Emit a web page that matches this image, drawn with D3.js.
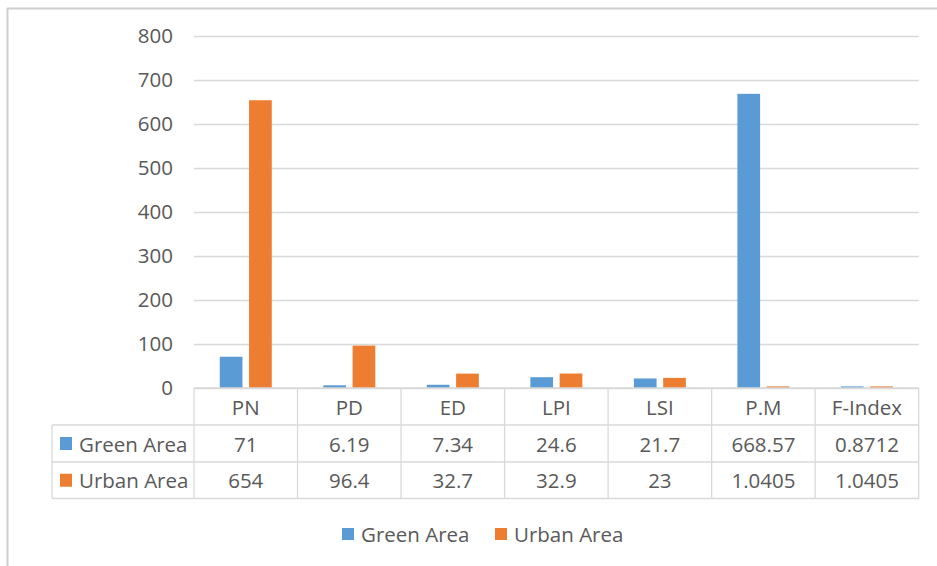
<!DOCTYPE html>
<html><head><meta charset="utf-8">
<script src="https://cdn.jsdelivr.net/npm/d3@7"></script>
<style>html,body{margin:0;padding:0;background:#fff;}svg{display:block;}</style>
</head><body>
<script>
const categories = ["PN","PD","ED","LPI","LSI","P.M","F-Index"];
const seriesNames = ["Green Area","Urban Area"];
const greenValues = [71, 6.19, 7.34, 24.6, 21.7, 668.57, 0.8712];
const urbanValues = [654, 96.4, 32.7, 32.9, 23, 1.0405, 1.0405];
const greenLabels = ["71","6.19","7.34","24.6","21.7","668.57","0.8712"];
const urbanLabels = ["654","96.4","32.7","32.9","23","1.0405","1.0405"];
const yTicks = [0,100,200,300,400,500,600,700,800];
const colors = ["#5B9BD5","#ED7D31"];

const W = 937, H = 566;
const font = "'Open Sans', 'Noto Sans', sans-serif";
const textColor = "#595959";
const lineColor = "#d9d9d9";

const svg = d3.select("body").append("svg").attr("width", W).attr("height", H);

// outer border (left and top visible)
svg.append("line").attr("x1",7.5).attr("x2",7.5).attr("y1",8).attr("y2",H).attr("stroke","#d0d0d0").attr("stroke-width",2);
svg.append("line").attr("x1",7).attr("x2",W).attr("y1",8.5).attr("y2",8.5).attr("stroke","#d0d0d0").attr("stroke-width",2);

const x0 = 194, x1 = 918.7;
const y = d3.scaleLinear().domain([0,800]).range([388,36]);
const x = d3.scaleBand().domain(categories).range([x0,x1]).padding(0);
const bw = x.bandwidth();
const xs = d3.scaleBand().domain(seriesNames).range([bw/2-26, bw/2+26]).paddingInner(0.225).paddingOuter(0);

// gridlines
const yAxis = d3.axisLeft(y).tickValues(yTicks).tickSize(-(x1-x0)).tickPadding(21);
const ga = svg.append("g").attr("transform",`translate(${x0},0)`).call(yAxis);
ga.select(".domain").remove();
ga.selectAll(".tick line").attr("stroke",lineColor).attr("stroke-width",1.3);
ga.selectAll(".tick text").attr("fill",textColor).style("font-family",font).style("font-size","20.5px");

// bars
const data = categories.map((c,i)=>({cat:c, vals:[greenValues[i], urbanValues[i]]}));
const groups = svg.append("g").selectAll("g").data(data).join("g")
  .attr("transform", d=>`translate(${x(d.cat)},0)`);
groups.selectAll("rect").data(d=>d.vals.map((v,j)=>({v, s:seriesNames[j], j}))).join("rect")
  .attr("x", d=>xs(d.s)).attr("width", xs.bandwidth())
  .attr("y", d=>Math.min(y(d.v), y(0)-1.6)).attr("height", d=>Math.max(y(0)-y(d.v), 1.6))
  .attr("fill", d=>colors[d.j]);

// data table
const rowY = [388, 425, 462, 498.5];
const tableLeft = 52;
const tg = svg.append("g");
tg.append("line").attr("x1",x0).attr("x2",x1).attr("y1",rowY[0]).attr("y2",rowY[0]).attr("stroke",lineColor).attr("stroke-width",1.3);
[1,2,3].forEach(i=>{
  tg.append("line").attr("x1",tableLeft).attr("x2",x1).attr("y1",rowY[i]).attr("y2",rowY[i]).attr("stroke",lineColor).attr("stroke-width",1.3);
});
categories.forEach(c=>{
  tg.append("line").attr("x1",x(c)).attr("x2",x(c)).attr("y1",rowY[0]).attr("y2",rowY[3]).attr("stroke",lineColor).attr("stroke-width",1.3);
});
tg.append("line").attr("x1",x1).attr("x2",x1).attr("y1",rowY[0]).attr("y2",rowY[3]).attr("stroke",lineColor).attr("stroke-width",1.3);
tg.append("line").attr("x1",tableLeft).attr("x2",tableLeft).attr("y1",rowY[1]).attr("y2",rowY[3]).attr("stroke",lineColor).attr("stroke-width",1.3);

const txt = (g, x, y, s, anchor) => g.append("text").attr("x",x).attr("y",y).attr("text-anchor",anchor||"middle")
  .attr("dominant-baseline","central").attr("fill",textColor).style("font-family",font).style("font-size","20.5px").text(s);

categories.forEach((c,i)=>{
  const cx = x(c)+bw/2;
  txt(tg, cx, (rowY[0]+rowY[1])/2+0.5, c);
  txt(tg, cx, (rowY[1]+rowY[2])/2, greenLabels[i]);
  txt(tg, cx, (rowY[2]+rowY[3])/2, urbanLabels[i]);
});
seriesNames.forEach((s,j)=>{
  const cy = (rowY[j+1]+rowY[j+2])/2;
  tg.append("rect").attr("x",60).attr("y",cy-6.5).attr("width",12).attr("height",13).attr("fill",colors[j]);
  txt(tg, 79, cy, s, "start");
});

// legend
const lg = svg.append("g");
const legX = [342, 495];
seriesNames.forEach((s,j)=>{
  lg.append("rect").attr("x",legX[j]).attr("y",528).attr("width",12).attr("height",12).attr("fill",colors[j]);
  txt(lg, legX[j]+19, 533.5, s, "start");
});
</script>
</body></html>
